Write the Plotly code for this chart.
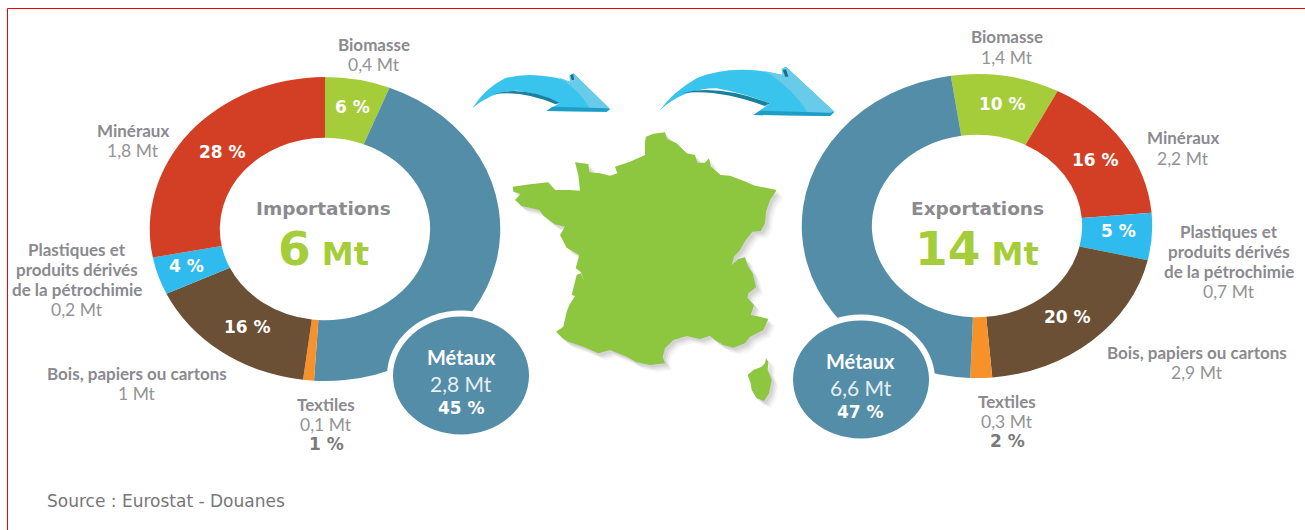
import plotly.graph_objects as go

W, H = 1305, 530

# ---------- data ----------
categories = ["Biomasse", "Métaux", "Textiles", "Bois, papiers ou cartons",
              "Plastiques et produits dérivés de la pétrochimie", "Minéraux"]
import_pct = [6, 45, 1, 16, 4, 28]
import_mt = ["0,4 Mt", "2,8 Mt", "0,1 Mt", "1 Mt", "0,2 Mt", "1,8 Mt"]
export_order = ["Biomasse", "Minéraux", "Plastiques et produits dérivés de la pétrochimie",
                "Bois, papiers ou cartons", "Textiles", "Métaux"]
export_pct = [10, 16, 5, 20, 2, 47]
export_mt = ["1,4 Mt", "2,2 Mt", "0,7 Mt", "2,9 Mt", "0,3 Mt", "6,6 Mt"]
colors = {"Biomasse": "#A4CD39", "Métaux": "#548DA8", "Textiles": "#F79129",
          "Bois, papiers ou cartons": "#6B5035",
          "Plastiques et produits dérivés de la pétrochimie": "#2FBBEE", "Minéraux": "#D33F25"}

GRAY_B, GRAY_V, BLUE = "#8A8A8F", "#949494", "#548DA8"
LABEL_FONT = "Lato"
PCT_FONT = "'DejaVu Sans', Verdana, sans-serif"

LCX, RCX, LCY, RCY, RY, RX = 325, 977, 229, 226, 152, 175.25


def px(x):
    return x / W


def py(y):
    return 1 - y / H


def donut(labels, values, cx, cy, rotation):
    return go.Pie(labels=labels, values=values, sort=False, direction="clockwise", rotation=rotation,
                  hole=0.6, textinfo="none", hoverinfo="label+percent", showlegend=False,
                  marker=dict(colors=[colors[c] for c in labels], line=dict(width=0)),
                  domain=dict(x=[px(cx - RY), px(cx + RY)], y=[py(cy + RY), py(cy - RY)]))


fig = go.Figure()
fig.add_trace(donut(categories, import_pct, LCX, LCY, 0))
fig.add_trace(donut(export_order, export_pct, RCX, RCY, -8.6))

shapes = []


def ellipse(cx, cy, rx, ry, color):
    shapes.append(dict(type="circle", xref="paper", yref="paper", x0=px(cx - rx), x1=px(cx + rx),
                       y0=py(cy + ry), y1=py(cy - ry), fillcolor=color, line=dict(width=0), layer="above"))


def path(cmds, color, ox, oy, dx=0, dy=0):
    """cmds in 3x crop pixels, crop origin (ox, oy)."""
    parts = []
    for c in cmds:
        nums = c[1:]
        pts = [f"{px(nums[i] / 3 + ox + dx):.5f},{py(nums[i + 1] / 3 + oy + dy):.5f}" for i in range(0, len(nums), 2)]
        parts.append(c[0] + " ".join(pts))
    shapes.append(dict(type="path", xref="paper", yref="paper", path=" ".join(parts) + " Z",
                       fillcolor=color, line=dict(width=0), layer="above"))


def poly(pts):
    return [("M", *pts[0])] + [("L", *p) for p in pts[1:]]


france = [(408,35),(430,26),(465,22),(472,42),(500,55),(530,85),(555,90),(562,113),(585,113),(597,100),(603,125),
          (632,150),(660,152),(700,167),(735,182),(800,195),(780,225),(768,260),(765,295),(752,318),(727,320),
          (705,348),(690,375),(672,395),(665,420),(685,402),(705,397),(715,425),(728,445),(738,487),(715,505),
          (712,518),(732,540),(722,570),(750,575),(775,582),(760,615),(720,635),(705,655),(670,668),(640,660),
          (615,645),(600,632),(570,642),(530,633),(490,645),(465,670),(458,695),(465,715),(420,720),(380,712),
          (350,695),(300,675),(265,685),(220,665),(175,650),(158,640),(138,620),(160,605),(170,560),(178,540),
          (195,513),(185,510),(200,450),(212,445),(225,475),(212,440),(197,430),(208,390),(170,368),(150,330),
          (165,305),(135,298),(100,272),(88,255),(35,243),(15,225),(32,207),(10,200),(8,185),(60,178),(115,172),
          (135,195),(180,195),(210,197),(205,150),(195,112),(235,117),(238,142),(270,145),(300,152),(322,145),
          (315,125),(360,110),(405,90),(405,50)]
corsica = [(768,700),(775,710),(773,735),(785,765),(777,805),(762,828),(740,820),(725,795),(722,775),(713,750),
           (730,735),(755,725),(765,715)]

for d, a in [(7, .04), (5.5, .05), (4, .07), (2.5, .08)]:
    path(poly(france), f"rgba(60,60,60,{a})", 510, 125, d, d)
    path(poly(corsica), f"rgba(60,60,60,{a})", 510, 125, d, d)
path(poly(france), "#8DC63F", 510, 125)
path(poly(corsica), "#8DC63F", 510, 125)

# left arrow
LA = (465, 60)
path([("M", 22,145), ("Q", 60,85, 120,55), ("Q", 170,40, 230,47), ("Q", 280,52, 315,65), ("L", 314,47), ("L", 325,40),
      ("L", 435,147), ("L", 425,155), ("L", 245,153), ("L", 285,128), ("Q", 220,100, 160,92), ("Q", 85,90, 22,145)],
     "#38C4EC", *LA)
path([("M", 280,52), ("Q", 300,60, 315,65), ("L", 314,47), ("L", 325,40), ("L", 435,147), ("L", 425,155), ("L", 380,154),
      ("Q", 345,90, 280,52)], "#68CBEA", *LA)
path([("M", 85,103), ("Q", 170,75, 285,128), ("L", 272,133), ("Q", 170,90, 85,103)], "#1B7F9E", *LA)
path([("M", 245,153), ("L", 262,140), ("L", 425,145), ("L", 435,147), ("L", 425,155)], "#1F9DC4", *LA)
path([("M", 316,45), ("L", 325,43), ("L", 327,60), ("L", 320,60)], "#1B6F8E", *LA)

# right arrow
RA = (650, 60)
path([("M", 28,152), ("Q", 70,95, 140,55), ("Q", 210,25, 300,30), ("Q", 350,33, 398,45), ("L", 395,27), ("L", 408,20),
      ("L", 553,155), ("L", 540,168), ("L", 310,165), ("L", 360,130), ("Q", 280,100, 200,85), ("Q", 100,85, 28,152)],
     "#38C4EC", *RA)
path([("M", 345,34), ("Q", 375,40, 398,45), ("L", 395,27), ("L", 408,20), ("L", 553,155), ("L", 540,168), ("L", 478,167),
      ("Q", 430,85, 345,34)], "#68CBEA", *RA)
path([("M", 95,100), ("Q", 200,70, 360,130), ("L", 345,138), ("Q", 200,85, 95,100)], "#1B7F9E", *RA)
path([("M", 310,165), ("L", 330,152), ("L", 540,158), ("L", 553,155), ("L", 540,168)], "#1F9DC4", *RA)
path([("M", 398,30), ("L", 408,28), ("L", 415,50), ("L", 406,50)], "#1B6F8E", *RA)

# white rings and Métaux bubbles
ellipse(461, 375.6, 74, 65, "white")
ellipse(461, 375.6, 68, 59, BLUE)
ellipse(861, 379.6, 74, 65, "white")
ellipse(861, 379.6, 68, 59, BLUE)

# red frame
red = dict(color="#F00000", width=1)
shapes.append(dict(type="line", xref="paper", yref="paper", x0=px(7.5), x1=1, y0=py(8.5), y1=py(8.5), line=red, layer="above"))
shapes.append(dict(type="line", xref="paper", yref="paper", x0=px(7.5), x1=px(7.5), y0=py(8.5), y1=0, line=red, layer="above"))

ann = []


def text(t, x, y, size, color, family=LABEL_FONT, bold=False):
    ann.append(dict(text=f"<b>{t}</b>" if bold else t, x=px(x), y=py(y), xref="paper", yref="paper",
                    xanchor="center", yanchor="middle", showarrow=False,
                    font=dict(size=size, color=color, family=family)))


def label(lines, value, x, y, pct=None, step=20.2):
    yy = y
    for line in lines:
        text(line, x, yy, 17, GRAY_B, bold=True)
        yy += step
    text(value, x, yy, 17.5, GRAY_V)
    if pct:
        text(pct, x, yy + step, 17, "#7A7A7A", PCT_FONT, True)


imp = dict(zip(categories, import_mt))
imp_p = dict(zip(categories, import_pct))
exp = dict(zip(export_order, export_mt))
exp_p = dict(zip(export_order, export_pct))
PL = "Plastiques et produits dérivés de la pétrochimie"
PL_LINES = ["Plastiques et", "produits dérivés", "de la pétrochimie"]

label(["Biomasse"], imp["Biomasse"], 374, 44.5)
label(["Minéraux"], imp["Minéraux"], 133, 130.5)
label(PL_LINES, imp[PL], 77, 249)
label(["Bois, papiers ou cartons"], imp["Bois, papiers ou cartons"], 137, 373.5)
label(["Textiles"], imp["Textiles"], 326, 404, f"{imp_p['Textiles']} %")

label(["Biomasse"], exp["Biomasse"], 1007, 37)
label(["Minéraux"], exp["Minéraux"], 1183, 138)
label(PL_LINES, exp[PL], 1229, 231)
label(["Bois, papiers ou cartons"], exp["Bois, papiers ou cartons"], 1197, 352)
label(["Textiles"], exp["Textiles"], 1007, 401, f"{exp_p['Textiles']} %")

for cat, x, y in [("Biomasse", 353, 107), ("Minéraux", 222, 152),
                  (PL, 186, 266), ("Bois, papiers ou cartons", 247, 327)]:
    text(f"{imp_p[cat]} %", x, y, 17, "white", PCT_FONT, True)
for cat, x, y in [("Biomasse", 1002, 104), ("Minéraux", 1095, 160),
                  (PL, 1118, 231), ("Bois, papiers ou cartons", 1067, 317)]:
    text(f"{exp_p[cat]} %", x, y, 17, "white", PCT_FONT, True)

for cx, y0, mt, pc in [(461, 357, imp["Métaux"], imp_p["Métaux"]), (861, 361, exp["Métaux"], exp_p["Métaux"])]:
    text("Métaux", cx, y0, 20, "white", bold=True)
    text(mt, cx, y0 + 26, 21, "#E6EEF2")
    text(f"{pc} %", cx, y0 + 51, 17, "white", PCT_FONT, True)

text("Importations", 323, 208, 18.5, GRAY_B, PCT_FONT, True)
text("Exportations", 977, 208, 18.5, GRAY_B, PCT_FONT, True)
ann.append(dict(text="<b><span style='font-size:47px'>6</span> Mt</b>", x=px(323), y=py(248), xref="paper", yref="paper",
                xanchor="center", yanchor="middle", showarrow=False,
                font=dict(size=32, color="#A4CD39", family=PCT_FONT)))
ann.append(dict(text="<b><span style='font-size:47px'>14</span> Mt</b>", x=px(977), y=py(248), xref="paper", yref="paper",
                xanchor="center", yanchor="middle", showarrow=False,
                font=dict(size=32, color="#A4CD39", family=PCT_FONT)))
text("Source : Eurostat - Douanes", 165.5, 501, 17, "#777777", PCT_FONT)

fig.update_layout(width=W, height=H, margin=dict(l=0, r=0, t=0, b=0), paper_bgcolor="white",
                  plot_bgcolor="white", shapes=shapes, annotations=ann, showlegend=False)

# The donuts in the reference are elliptical: stretch each pie horizontally about its centre.
post = f"""
document.body.style.margin='0';
var gd=document.getElementById('{{plot_id}}');
function stretch(){{
  var cx=[{LCX},{RCX}], s={RX}/{RY};
  gd.querySelectorAll('.pielayer .trace').forEach(function(t,i){{
    t.setAttribute('transform','translate('+cx[i]+',0) scale('+s+',1) translate('+(-cx[i])+',0)');
  }});
}}
stretch();
gd.on('plotly_afterplot',stretch);
"""
fig.write_html("out.html", post_script=post, config=dict(displayModeBar=False))
